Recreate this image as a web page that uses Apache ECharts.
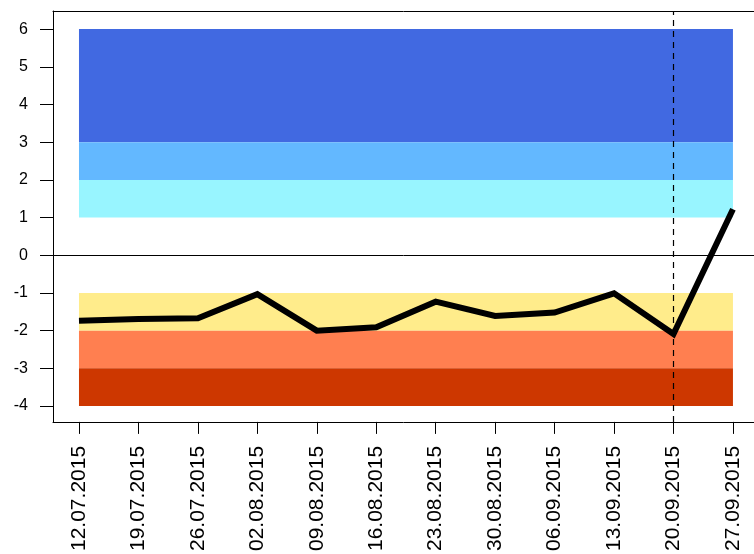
<!DOCTYPE html>
<html>
<head>
<meta charset="utf-8">
<script src="https://cdn.jsdelivr.net/npm/echarts@6/dist/echarts.min.js"></script>
<style>html,body{margin:0;padding:0;background:#fff;overflow:hidden}#c{width:754px;height:554px}</style>
</head>
<body>
<div id="c"></div>
<script>
const dates = ['12.07.2015','19.07.2015','26.07.2015','02.08.2015','09.08.2015','16.08.2015','23.08.2015','30.08.2015','06.09.2015','13.09.2015','20.09.2015','27.09.2015'];
const values = [-1.74, -1.69, -1.67, -1.03, -2.0, -1.91, -1.23, -1.61, -1.52, -1.01, -2.09, 1.22];
const bandLow = [3, 2, 1, -2, -3, -4];
const bandHigh = [6, 3, 2, -1, -2, -3];
const bandColors = ['#4169E1', '#63B8FF', '#98F5FF', '#FFEC8B', '#FF7F50', '#CD3700'];
const yTicks = [-4, -3, -2, -1, 0, 1, 2, 3, 4, 5, 6];
const markerIndex = 10;

const idx = dates.map((d, i) => i);
const bandData = bandLow.map((lo, i) => [0, dates.length - 1, lo, bandHigh[i], i]);

const chart = echarts.init(document.getElementById('c'));
chart.setOption({
  animation: false,
  grid: { left: 53, top: 11, right: 0, bottom: 132, show: false },
  xAxis: [{
    type: 'value', min: -0.437, max: 11.354,
    axisLine: { show: true, onZero: false, lineStyle: { color: '#000', width: 1 } },
    axisTick: { show: true, length: 12, customValues: idx, lineStyle: { color: '#000', width: 1 } },
    axisLabel: { customValues: idx, rotate: 90, margin: 24, fontSize: 21, color: '#000', fontFamily: 'Liberation Sans, Arial, sans-serif', formatter: v => dates[Math.round(v)] },
    splitLine: { show: false }
  }, {
    type: 'value', position: 'top', min: -0.437, max: 11.354,
    axisLine: { show: true, onZero: false, lineStyle: { color: '#000', width: 1 } },
    axisTick: { show: false }, axisLabel: { show: false }, splitLine: { show: false }
  }],
  yAxis: {
    type: 'value', min: -4.42, max: 6.48,
    axisLine: { show: true, onZero: false, lineStyle: { color: '#000', width: 1 } },
    axisTick: { show: true, length: 13, customValues: yTicks, lineStyle: { color: '#000', width: 1 } },
    axisLabel: { customValues: yTicks, margin: 25, fontSize: 16, color: '#000', fontFamily: 'Liberation Sans, Arial, sans-serif' },
    splitLine: { show: false }
  },
  series: [
    {
      type: 'custom', z: 1, silent: true,
      data: bandData,
      renderItem: (params, api) => {
        const p1 = api.coord([api.value(0), api.value(3)]);
        const p2 = api.coord([api.value(1), api.value(2)]);
        return { type: 'rect', shape: { x: p1[0], y: p1[1], width: p2[0] - p1[0], height: p2[1] - p1[1] }, style: { fill: bandColors[api.value(4)] } };
      }
    },
    {
      type: 'line', z: 5,
      data: values.map((v, i) => [i, v]),
      showSymbol: false, symbol: 'none',
      lineStyle: { color: '#000', width: 6, cap: 'butt', join: 'miter' },
      markLine: {
        silent: true, symbol: 'none', label: { show: false },
        data: [
          { yAxis: 0, lineStyle: { color: '#000', width: 1, type: 'solid' } },
          { xAxis: markerIndex, lineStyle: { color: '#000', width: 1.2, type: [6, 5] } }
        ]
      }
    }
  ]
});
</script>
</body>
</html>
